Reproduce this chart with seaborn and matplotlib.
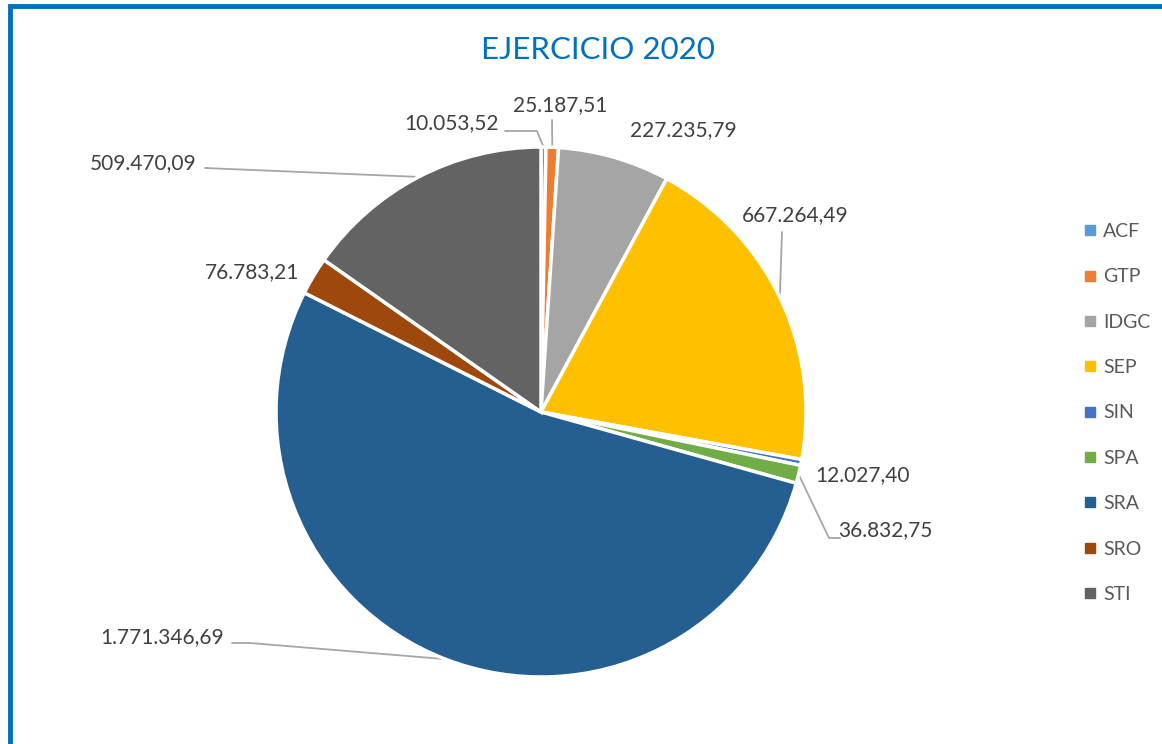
import numpy as np
import matplotlib
matplotlib.use("Agg")
import matplotlib.pyplot as plt
import seaborn as sns
from matplotlib.lines import Line2D
from matplotlib.patches import Rectangle

# data
categories = ["ACF", "GTP", "IDGC", "SEP", "SIN", "SPA", "SRA", "SRO", "STI"]
values = [10053.52, 25187.51, 227235.79, 667264.49, 12027.40, 36832.75,
          1771346.69, 76783.21, 509470.09]
value_labels = ["10.053,52", "25.187,51", "227.235,79", "667.264,49", "12.027,40",
                "36.832,75", "1.771.346,69", "76.783,21", "509.470,09"]
colors = ["#5B9BD5", "#ED7D31", "#A5A5A5", "#FFC000", "#4472C4", "#70AD47",
          "#255E91", "#9E480E", "#636363"]

sns.set_theme(style="white")
plt.rcParams['font.family'] = ['Lato', 'DejaVu Sans']

W, H = 1162, 744
fig = plt.figure(figsize=(W / 100, H / 100), dpi=100)
ax = fig.add_axes([0, 0, 1, 1])

# blue frame (right and bottom edges run off the image)
fig.patches.append(Rectangle((10 / W, -0.05), 1.2, 1 - 6 / H + 0.05,
                             transform=fig.transFigure, fill=False,
                             edgecolor="#0070C0", linewidth=3.5))

cx, cy, R = 541, H - 412, 265
wedges, _ = ax.pie(values, colors=colors, startangle=90, counterclock=False,
                   center=(cx, cy), radius=R,
                   wedgeprops=dict(edgecolor="white", linewidth=2.5))
ax.set_xlim(0, W)
ax.set_ylim(0, H)
ax.set_aspect('equal')
ax.axis('off')

# label layout: text centre (pixels from top) and optional leader line path
label_pos = [(452, 123), (560, 105), (683, 130), (795, 215), (863, 475),
             (885, 530), (162, 637), (252, 272), (143, 163)]
elbows = [(537, 131), (552, 120), None, (782, 232), None,
          (829, 538), (250, 643), None, (205, 168)]
starts = [(505, 131), None, None, None, None,
          (840, 538), (232, 643), None, (207, 168)]

for w, txt, (tx, ty), elb, st in zip(wedges, value_labels, label_pos, elbows, starts):
    ax.text(tx, H - ty, txt, ha="center", va="center", fontsize=15, color="#404040")
    if elb is None:
        continue
    ang = np.deg2rad((w.theta1 + w.theta2) / 2)
    ex, ey = cx + R * np.cos(ang), cy + R * np.sin(ang)
    xs, ys = [], []
    if st is not None:
        xs.append(st[0]); ys.append(H - st[1])
    xs += [elb[0], ex]; ys += [H - elb[1], ey]
    ax.plot(xs, ys, color="#A6A6A6", linewidth=1.3, zorder=0)

ax.text(598, H - 50, "EJERCICIO 2020", ha="center", va="center",
        fontsize=22.5, color="#0070C0")

handles = [Line2D([0], [0], marker='s', linestyle='', markersize=7,
                  markerfacecolor=c, markeredgecolor=c) for c in colors]
leg = ax.legend(handles, categories, loc="center left",
                bbox_to_anchor=(1066 / W, (H - 413) / H),
                bbox_transform=fig.transFigure, frameon=False,
                fontsize=14, labelspacing=1.46, handlelength=0.7,
                handletextpad=0.3)
for t in leg.get_texts():
    t.set_color("#595959")

fig.savefig("out.png", dpi=100)
